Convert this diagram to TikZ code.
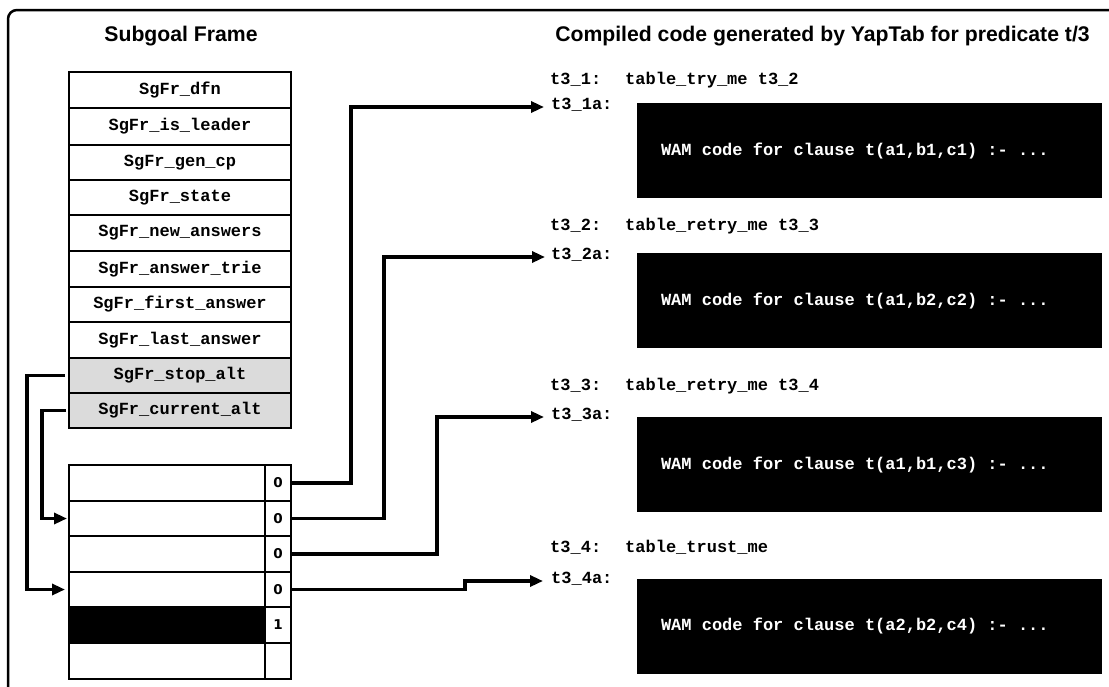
\documentclass[tikz,border=0pt]{standalone}
\usepackage{fontspec}
\setmainfont{Liberation Sans}
\newfontfamily\monob{Liberation Mono}
\newfontfamily\dejavu{DejaVu Sans}
\usetikzlibrary{arrows.meta}
\begin{document}
\begin{tikzpicture}[x=1pt,y=-1pt,
  cell/.style={draw=black, line width=2.5pt, minimum width=222pt, inner sep=0pt, outer sep=0pt,
    font=\monob\bfseries\fontsize{17}{17}\selectfont},
  grey/.style={fill=black!14},
  lcell/.style={draw=black, line width=2.5pt, minimum width=196pt, inner sep=0pt, outer sep=0pt},
  ncell/.style={draw=black, line width=2.5pt, minimum width=26pt, inner sep=0pt, outer sep=0pt,
    font=\dejavu\bfseries\fontsize{13.5}{13.5}\selectfont},
  ttl/.style={font=\bfseries\fontsize{21.2}{21.2}\selectfont, inner sep=0pt},
  lbl/.style={anchor=west, inner sep=0pt, text height=0.7em, text depth=0.2em,
    font=\monob\bfseries\fontsize{17}{17}\selectfont},
  wam/.style={fill=black, text=white, minimum height=95pt, inner xsep=24pt,
    inner ysep=0pt, font=\monob\bfseries\fontsize{17}{17}\selectfont},
  conn/.style={line width=3.2pt, -{Triangle[length=13pt,width=11pt]}},
]
\useasboundingbox (0,0) rectangle (1109,686);
% outer frame
\draw[line width=2.5pt, rounded corners=9pt] (1130,10) -- (8,10) -- (8,700);

% titles
\node[ttl] (t1) at (181,36) {Subgoal Frame};
\node[ttl] (t2) at (822.5,36) {Compiled code generated by YapTab for predicate t/3};

% subgoal frame
\node[cell, minimum height=36pt] (s1) at (180,90) {SgFr\_dfn};
\node[cell, minimum height=37pt] (s2) at (180,126.5) {SgFr\_is\_leader};
\node[cell, minimum height=35pt] (s3) at (180,162.5) {SgFr\_gen\_cp};
\node[cell, minimum height=35pt] (s4) at (180,197.5) {SgFr\_state};
\node[cell, minimum height=36pt] (s5) at (180,233) {SgFr\_new\_answers};
\node[cell, minimum height=36pt] (s6) at (180,269) {SgFr\_answer\_trie};
\node[cell, minimum height=35pt] (s7) at (180,304.5) {SgFr\_first\_answer};
\node[cell, minimum height=36pt] (s8) at (180,340) {SgFr\_last\_answer};
\node[cell, grey, minimum height=35pt] (s9) at (180,375.5) {SgFr\_stop\_alt};
\node[cell, grey, minimum height=35pt] (s10) at (180,410.5) {SgFr\_current\_alt};

% alternatives table
\node[lcell, minimum height=36pt] (c1) at (167,483) {};
\node[lcell, minimum height=35pt] (c2) at (167,518.5) {};
\node[lcell, minimum height=36pt] (c3) at (167,554) {};
\node[lcell, minimum height=35pt] (c4) at (167,589.5) {};
\node[lcell, fill=black, minimum height=36pt] (c5) at (167,625) {};
\node[lcell, minimum height=36pt] (c6) at (167,661) {};
\node[ncell, minimum height=36pt] (n1) at (278,483) {0};
\node[ncell, minimum height=35pt] (n2) at (278,518.5) {0};
\node[ncell, minimum height=36pt] (n3) at (278,554) {0};
\node[ncell, minimum height=35pt] (n4) at (278,589.5) {0};
\node[ncell, minimum height=36pt] (n5) at (278,625) {1};
\node[ncell, minimum height=36pt] (n6) at (278,661) {};

% code labels
\node[lbl] (l1) at (550,82) {t3\_1:};
\node[lbl] (i1) at (625,82) {table\_try\_me t3\_2};
\node[lbl] (a1) at (551,107) {t3\_1a:};
\node[lbl] (l2) at (550,228) {t3\_2:};
\node[lbl] (i2) at (625,228) {table\_retry\_me t3\_3};
\node[lbl] (a2) at (551,257) {t3\_2a:};
\node[lbl] (l3) at (550,388) {t3\_3:};
\node[lbl] (i3) at (625,388) {table\_retry\_me t3\_4};
\node[lbl] (a3) at (551,417) {t3\_3a:};
\node[lbl] (l4) at (550,550) {t3\_4:};
\node[lbl] (i4) at (625,550) {table\_trust\_me};
\node[lbl] (a4) at (551,581) {t3\_4a:};

% WAM boxes
\node[wam] (b1) at (869.5,150.5) {\makebox[417pt][l]{WAM code for clause t(a1,b1,c1) :- ...}};
\node[wam] (b2) at (869.5,300.5) {\makebox[417pt][l]{WAM code for clause t(a1,b2,c2) :- ...}};
\node[wam] (b3) at (869.5,464.5) {\makebox[417pt][l]{WAM code for clause t(a1,b1,c3) :- ...}};
\node[wam] (b4) at (869.5,626) {\makebox[417pt][l]{WAM code for clause t(a2,b2,c4) :- ...}};

% connectors left
\coordinate (kl1) at (27,0);
\coordinate (kl2) at (42,0);
\draw[conn, shorten <=4pt, shorten >=4pt] (s9.west) -| (kl1 |- c4.west) -- (c4.west);
\draw[conn, shorten <=3pt, shorten >=2pt] (s10.west) -| (kl2 |- c2.west) -- (c2.west);

% connectors right
\coordinate (k1) at (351,0);
\coordinate (k2) at (384,0);
\coordinate (k3) at (437,0);
\coordinate (k4) at (465,0);
\draw[conn, shorten >=7pt] (n1.east) -| (k1 |- a1.west) -- (a1.west);
\draw[conn, shorten >=6pt] (n2.east) -| (k2 |- a2.west) -- (a2.west);
\draw[conn, shorten >=7pt] (n3.east) -| (k3 |- a3.west) -- (a3.west);
\draw[conn, shorten >=8pt] (n4.east) -| (k4 |- a4.west) -- (a4.west);
\end{tikzpicture}
\end{document}
